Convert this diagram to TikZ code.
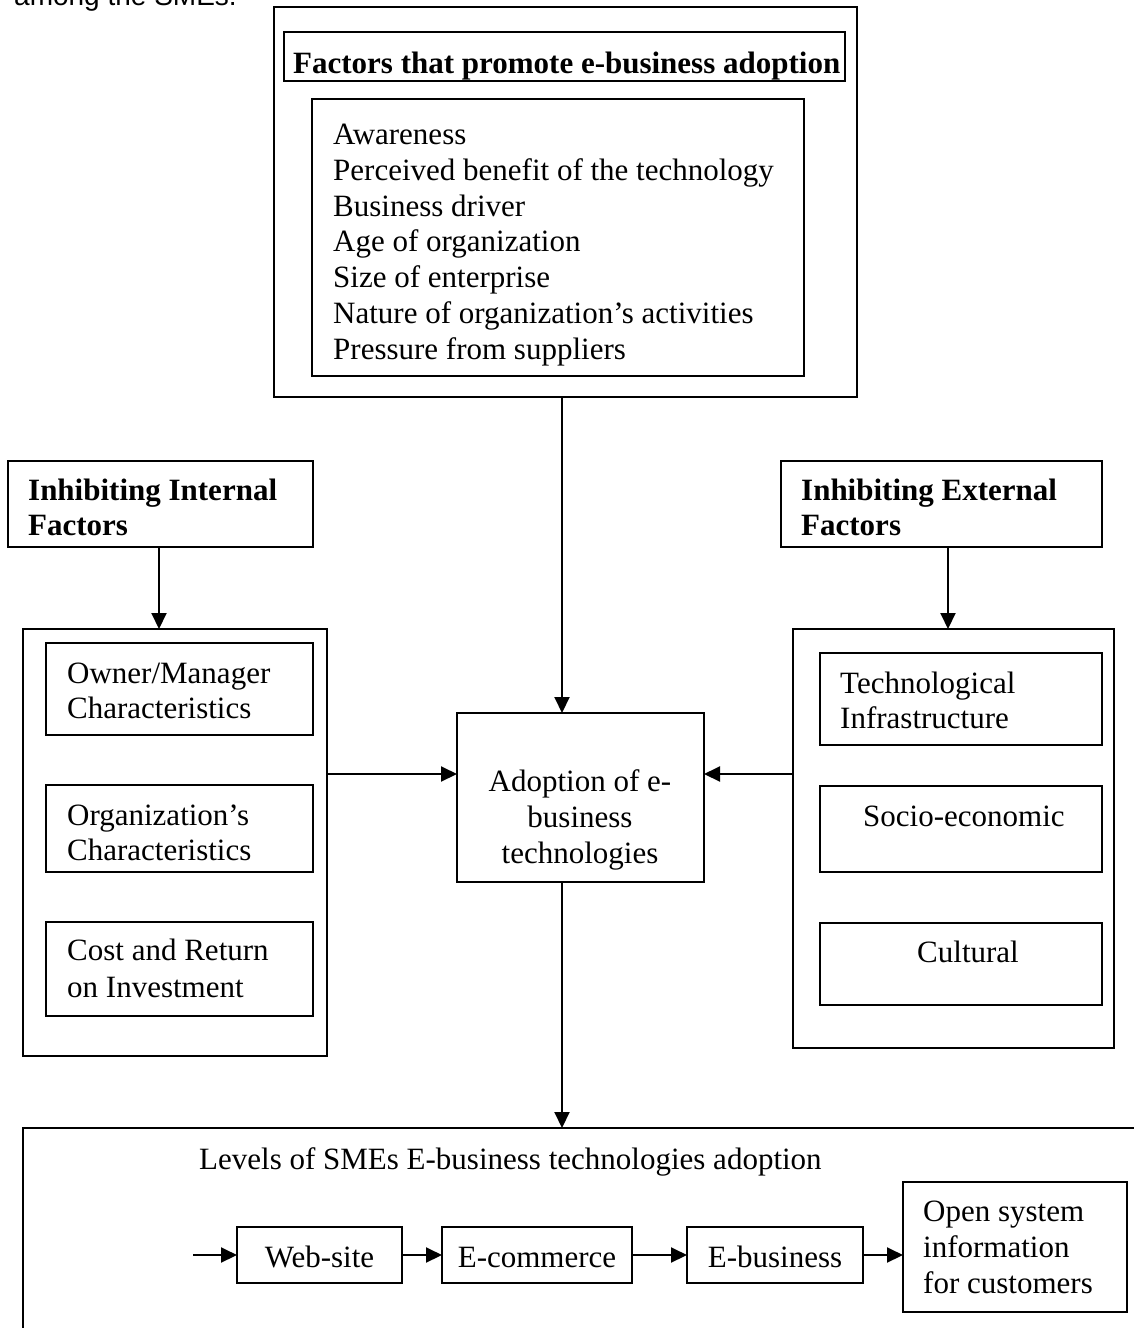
\documentclass[tikz,border=0pt]{standalone}
\usepackage{fontspec}
\setmainfont[Ligatures={TeX,NoCommon}]{Liberation Serif}
\newfontfamily\arialfont{Liberation Sans}
\usetikzlibrary{arrows.meta}
\begin{document}
\begin{tikzpicture}[x=1pt,y=-1pt,
  box/.style={draw, line width=2pt, inner sep=0pt, outer sep=0pt, anchor=north west},
  txt/.style={inner sep=0pt, anchor=base west, font=\fontsize{31}{36}\selectfont},
  ctxt/.style={inner sep=0pt, anchor=base, font=\fontsize{31}{36}\selectfont},
  btxt/.style={inner sep=0pt, anchor=base west, font=\fontsize{31}{36}\selectfont\bfseries},
  arr/.style={line width=2pt, -{Triangle[length=16pt,width=15pt]}}]
\useasboundingbox (0,0) rectangle (1134,1328);
\clip (0,0) rectangle (1134,1328);

% text cut at top of page
\node[inner sep=0pt, anchor=base west, font=\arialfont\fontsize{28}{32}\selectfont] (among) at (14,5) {among the SMEs.};

% promoting factors
\node[box, minimum width=583pt, minimum height=390pt] (topouter) at (274,7) {};
\node[box, minimum width=561pt, minimum height=49pt] (titlebox) at (284,32) {};
\node[btxt] (titletxt) at (293,73) {Factors that promote e-business adoption};
\node[box, minimum width=492pt, minimum height=277pt] (listbox) at (312,99) {};
\node[txt] (l1) at (333,144) {Awareness};
\node[txt] (l2) at (333,180) {Perceived benefit of the technology};
\node[txt] (l3) at (333,216) {Business driver};
\node[txt] (l4) at (333,251) {Age of organization};
\node[txt] (l5) at (333,287) {Size of enterprise};
\node[txt] (l6) at (333,323) {Nature of organization’s activities};
\node[txt] (l7) at (333,359) {Pressure from suppliers};

% internal factors
\node[box, minimum width=305pt, minimum height=86pt] (inhint) at (8,461) {};
\node[btxt] (ii1) at (28,500) {Inhibiting Internal};
\node[btxt] (ii2) at (28,535) {Factors};
\node[box, minimum width=304pt, minimum height=427pt] (leftouter) at (23,629) {};
\node[box, minimum width=267pt, minimum height=92pt] (owner) at (46,643) {};
\node[txt] (ow1) at (67,683) {Owner/Manager};
\node[txt] (ow2) at (67,718) {Characteristics};
\node[box, minimum width=267pt, minimum height=87pt] (org) at (46,785) {};
\node[txt] (or1) at (67,825) {Organization’s};
\node[txt] (or2) at (67,860) {Characteristics};
\node[box, minimum width=267pt, minimum height=94pt] (cost) at (46,922) {};
\node[txt] (co1) at (67,960) {Cost and Return};
\node[txt] (co2) at (67,997) {on Investment};

% external factors
\node[box, minimum width=321pt, minimum height=86pt] (inhext) at (781,461) {};
\node[btxt] (ie1) at (801,500) {Inhibiting External};
\node[btxt] (ie2) at (801,535) {Factors};
\node[box, minimum width=321pt, minimum height=419pt] (extouter) at (793,629) {};
\node[box, minimum width=282pt, minimum height=92pt] (tech) at (820,653) {};
\node[txt] (te1) at (840,693) {Technological};
\node[txt] (te2) at (840,728) {Infrastructure};
\node[box, minimum width=282pt, minimum height=86pt] (socio) at (820,786) {};
\node[txt] (so1) at (863,826) {Socio-economic};
\node[box, minimum width=282pt, minimum height=82pt] (cult) at (820,923) {};
\node[txt] (cu1) at (917,962) {Cultural};

% adoption
\node[box, minimum width=247pt, minimum height=169pt] (adopt) at (457,713) {};
\node[ctxt] (ad1) at (580,791) {Adoption of e-};
\node[ctxt] (ad2) at (580,827) {business};
\node[ctxt] (ad3) at (580,863) {technologies};

% levels
\node[box, minimum width=1200pt, minimum height=300pt] (levels) at (23,1128) {};
\node[txt] (lv) at (199,1169) {Levels of SMEs E-business technologies adoption};
\node[box, minimum width=165pt, minimum height=56pt] (web) at (237,1227) {};
\node[ctxt] (wbt) at (319.5,1267) {Web-site};
\node[box, minimum width=190pt, minimum height=56pt] (ecom) at (442,1227) {};
\node[ctxt] (ect) at (537,1267) {E-commerce};
\node[box, minimum width=176pt, minimum height=56pt] (ebus) at (687,1227) {};
\node[ctxt] (ebt) at (775,1267) {E-business};
\node[box, minimum width=224pt, minimum height=130pt] (open) at (903,1182) {};
\node[txt] (op1) at (923,1221) {Open system};
\node[txt] (op2) at (923,1257) {information};
\node[txt] (op3) at (923,1293) {for customers};

% connectors
\coordinate (ax) at (562,0);
\coordinate (hy) at (0,774);
\coordinate (cstart) at (193,1255);
\draw[arr] (topouter.south -| ax) -- (adopt.north -| ax);
\draw[arr] (adopt.south -| ax) -- (levels.north -| ax);
\draw[arr] ([xshift=-1.5pt]inhint.south) -- ([xshift=-1.5pt]inhint.south |- leftouter.north);
\draw[arr] ([xshift=6.5pt]inhext.south) -- ([xshift=6.5pt]inhext.south |- extouter.north);
\draw[arr] (leftouter.east |- hy) -- (adopt.west |- hy);
\draw[arr] (extouter.west |- hy) -- (adopt.east |- hy);
\draw[arr] (cstart) -- (web.west);
\draw[arr] (web.east) -- (ecom.west);
\draw[arr] (ecom.east) -- (ebus.west);
\draw[arr] (ebus.east) -- (ebus.east -| open.west);
\end{tikzpicture}
\end{document}
